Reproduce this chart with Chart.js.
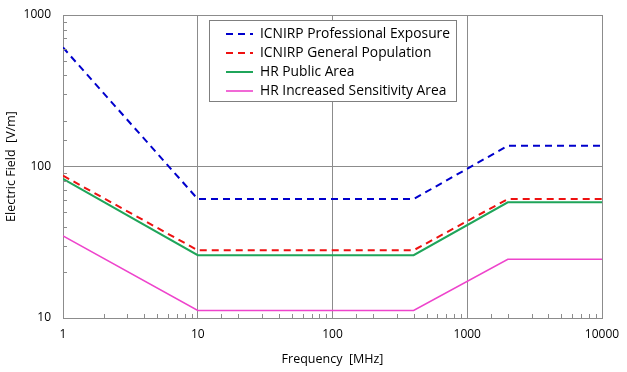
<!DOCTYPE html>
<html>
<head>
<meta charset="utf-8">
<script src="https://cdn.jsdelivr.net/npm/chart.js@4"></script>
<style>
html,body{margin:0;padding:0;background:#fff;}
#wrap{width:627px;height:372px;position:relative;}
</style>
</head>
<body>
<div id="wrap"><canvas id="c" width="627" height="372"></canvas></div>
<script>
const frequencies = [1, 10, 400, 2000, 10000];
const icnirpProfessional = [610, 61, 61, 137, 137];
const icnirpGeneral = [87, 28, 28, 61, 61];
const hrPublic = [83, 26, 26, 58, 58];
const hrSensitive = [34.8, 11.2, 11.2, 24.4, 24.4];
const seriesNames = ['ICNIRP Professional Exposure', 'ICNIRP General Population', 'HR Public Area', 'HR Increased Sensitivity Area'];
const xTickLabels = ['1', '10', '100', '1000', '10000'];
const yTickLabels = ['10', '100', '1000'];

const FONT = "'Open Sans', 'Noto Sans', sans-serif";
const GRID = '#8c8c8c';

function pts(ys){ return frequencies.map((f,i)=>({x:f, y:ys[i]})); }
function isMajor(v){ const l = Math.log10(v); return Math.abs(l - Math.round(l)) < 1e-9; }

const datasets = [
  {label: seriesNames[0], data: pts(icnirpProfessional), borderColor:'#0000CC', borderDash:[7,5], borderWidth:2},
  {label: seriesNames[1], data: pts(icnirpGeneral), borderColor:'#EE1111', borderDash:[7,5], borderWidth:2},
  {label: seriesNames[2], data: pts(hrPublic), borderColor:'#1FA55A', borderWidth:2},
  {label: seriesNames[3], data: pts(hrSensitive), borderColor:'#EE44CC', borderWidth:1.6},
].map(d => Object.assign({pointRadius:0, fill:false, tension:0, borderCapStyle:'butt'}, d));

const minorTicks = {
  id:'minorTicks',
  afterDatasetsDraw(chart){
    const ctx = chart.ctx, a = chart.chartArea;
    ctx.save();
    ctx.strokeStyle = GRID; ctx.lineWidth = 1;
    chart.scales.x.ticks.forEach(t=>{
      if (isMajor(t.value)) return;
      const px = Math.round(chart.scales.x.getPixelForValue(t.value)) + 0.5;
      ctx.beginPath(); ctx.moveTo(px, a.bottom); ctx.lineTo(px, a.bottom - 4); ctx.stroke();
    });
    chart.scales.y.ticks.forEach(t=>{
      if (isMajor(t.value)) return;
      const py = Math.round(chart.scales.y.getPixelForValue(t.value)) + 0.5;
      ctx.beginPath(); ctx.moveTo(a.left, py); ctx.lineTo(a.left + 4, py); ctx.stroke();
    });
    ctx.restore();
  }
};

const boxLegend = {
  id:'boxLegend',
  afterDraw(chart){
    const ctx = chart.ctx;
    const bx = 209.5, by = 20.5, bw = 247, bh = 81;
    ctx.save();
    ctx.fillStyle = '#fff';
    ctx.fillRect(bx, by, bw, bh);
    ctx.strokeStyle = '#7f7f7f'; ctx.lineWidth = 1;
    ctx.strokeRect(bx, by, bw, bh);
    ctx.font = "13.8px " + FONT;
    ctx.textBaseline = 'middle';
    chart.data.datasets.forEach((d,i)=>{
      const y = 34 + i*19;
      ctx.beginPath();
      ctx.strokeStyle = d.borderColor; ctx.lineWidth = d.borderWidth;
      ctx.setLineDash(d.borderDash || []);
      ctx.moveTo(226, y); ctx.lineTo(253, y); ctx.stroke();
      ctx.setLineDash([]);
      ctx.fillStyle = '#000';
      ctx.fillText(d.label, 260, y + 0.5);
    });
    ctx.restore();
  }
};

new Chart(document.getElementById('c'), {
  type:'line',
  data:{datasets},
  options:{
    responsive:false, animation:false,
    layout:{padding:{left:0, right:25, top:15, bottom:0}},
    plugins:{legend:{display:false}, tooltip:{enabled:false}},
    scales:{
      x:{
        type:'logarithmic', min:1, max:10000,
        afterFit(s){ s.height = 54; s.paddingRight = 10; s.paddingLeft = 0; },
        border:{color:GRID, width:1},
        grid:{drawTicks:false, color: c => (c.tick && isMajor(c.tick.value)) ? GRID : 'rgba(0,0,0,0)'},
        ticks:{autoSkip:false, maxRotation:0, padding:9, color:'#000', font:{family:FONT, size:12},
          callback:(v)=>{ const i = Math.round(Math.log10(v)); return isMajor(v) ? xTickLabels[i] : ''; }},
        title:{display:true, text:'Frequency  [MHz]', color:'#000', font:{family:FONT, size:12.5}, padding:{top:4, bottom:5}}
      },
      y:{
        type:'logarithmic', min:10, max:1000,
        afterFit(s){ s.width = 63; s.paddingTop = 8; s.paddingBottom = 0; },
        border:{color:GRID, width:1},
        grid:{drawTicks:false, color: c => (c.tick && isMajor(c.tick.value)) ? GRID : 'rgba(0,0,0,0)'},
        ticks:{autoSkip:false, padding:12, color:'#000', font:{family:FONT, size:12},
          callback:(v)=>{ const i = Math.round(Math.log10(v)) - 1; return isMajor(v) ? yTickLabels[i] : ''; }},
        title:{display:true, text:'Electric Field  [V/m]', color:'#000', font:{family:FONT, size:12.5}, padding:{top:4, bottom:4}}
      }
    }
  },
  plugins:[minorTicks, boxLegend]
});
</script>
</body>
</html>
